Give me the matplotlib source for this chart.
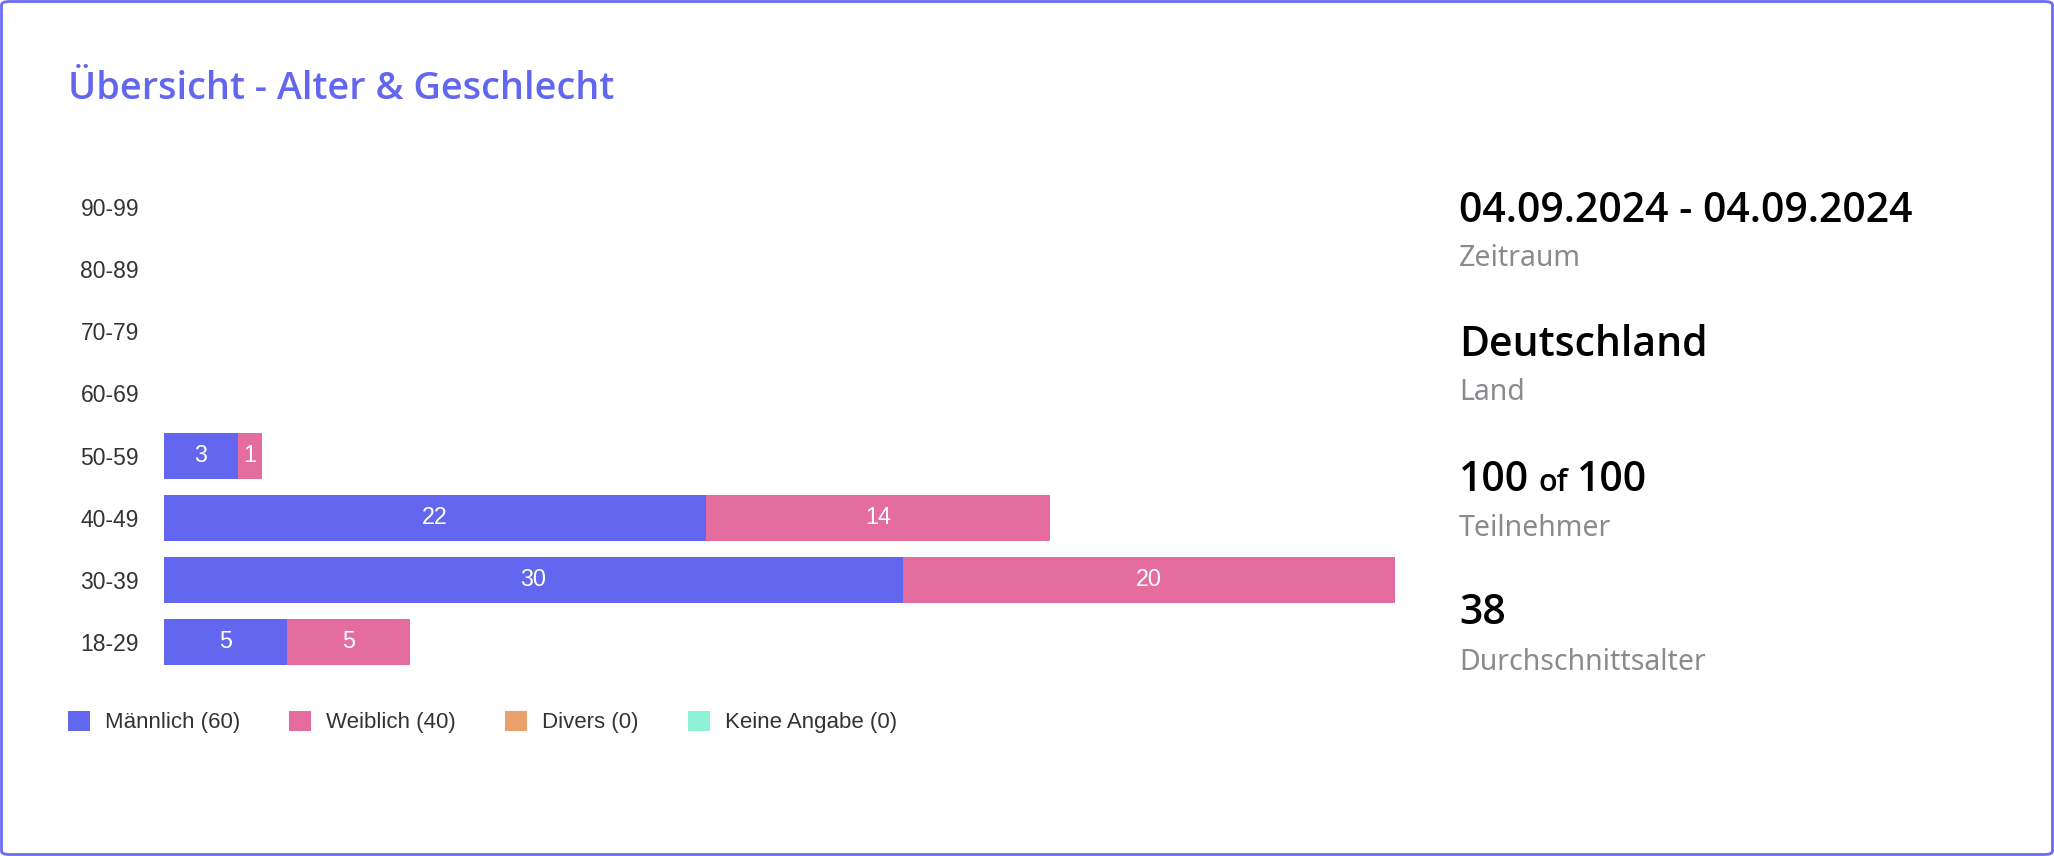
import matplotlib
matplotlib.use("Agg")
import matplotlib.pyplot as plt
from matplotlib.patches import Patch, FancyBboxPatch
from matplotlib import font_manager as fm

# ---------------- data ----------------
categories = ['18-29', '30-39', '40-49', '50-59', '60-69', '70-79', '80-89', '90-99']
maennlich = [5, 30, 22, 3, 0, 0, 0, 0]
weiblich = [5, 20, 14, 1, 0, 0, 0, 0]
divers = [0, 0, 0, 0, 0, 0, 0, 0]
keine_angabe = [0, 0, 0, 0, 0, 0, 0, 0]
series_names = ['Männlich', 'Weiblich', 'Divers', 'Keine Angabe']
series_totals = [60, 40, 0, 0]

title_text = 'Übersicht - Alter & Geschlecht'
stat_values = ['04.09.2024 - 04.09.2024', 'Deutschland', '100 of 100', '38']
stat_labels = ['Zeitraum', 'Land', 'Teilnehmer', 'Durchschnittsalter']


# ---------------- fonts ----------------
def _w(w):
    if isinstance(w, str):
        return fm.weight_dict.get(w.lower(), 400)
    return int(w)


def pick_font(prefs, target):
    for name in prefs:
        cands = [f for f in fm.fontManager.ttflist
                 if f.name == name and f.style == 'normal']
        if not cands:
            continue
        if target >= 600:
            good = [f for f in cands if _w(f.weight) >= 600]
            if not good:
                continue
            best = min(good, key=lambda f: abs(_w(f.weight) - target))
        else:
            best = min(cands, key=lambda f: abs(_w(f.weight) - target))
        return fm.FontProperties(fname=best.fname)
    return fm.FontProperties(family='DejaVu Sans',
                             weight='bold' if target >= 600 else 'normal')


prefs = ['Noto Sans', 'Open Sans', 'Inter', 'Roboto', 'Lato', 'DejaVu Sans']
fp_semibold = pick_font(prefs, 600)
fp_bold = pick_font(prefs, 600)
fp_regular = pick_font(prefs, 400)
arial = ['Liberation Sans', 'DejaVu Sans']

# ---------------- style ----------------
colors = ['#6366EE', '#E46C9E', '#E9A06C', '#8EF3D6']
title_color = '#6366EE'
W, H, DPI = 2054, 856, 100
fig = plt.figure(figsize=(W / DPI, H / DPI), dpi=DPI)
fig.patch.set_facecolor('white')

border = FancyBboxPatch((1.5 / W, 1.5 / H), 1 - 3 / W, 1 - 3 / H,
                        boxstyle='round,pad=0,rounding_size=0.004',
                        transform=fig.transFigure, fill=False,
                        edgecolor='#6B6BF5', linewidth=2.0)
fig.patches.append(border)

# title
t = fig.text(68 / W, 1 - 89 / H, title_text, color=title_color,
             fontproperties=fp_semibold, va='center', ha='left')
t.set_fontsize(27.3)

# chart axes
left, right = 164 / W, 1395 / W
top, bottom = 1 - 176 / H, 1 - 673 / H
ax = fig.add_axes([left, bottom, right - left, top - bottom])
y = list(range(len(categories)))
series = [maennlich, weiblich, divers, keine_angabe]
cum = [0] * len(categories)
bar_h = 0.74
for vals, col in zip(series, colors):
    bars = ax.barh(y, vals, left=cum, height=bar_h, color=col, linewidth=0)
    labels = [str(v) if v > 0 else '' for v in vals]
    ax.bar_label(bars, labels=labels, label_type='center', color='white',
                 fontsize=16.8, family=arial)
    cum = [c + v for c, v in zip(cum, vals)]

ax.set_xlim(0, 50)
ax.set_ylim(-0.5, len(categories) - 0.5)
ax.set_yticks(y)
ax.set_yticklabels(categories, fontsize=16.5, color='#333333', family=arial)
ax.set_xticks([])
ax.tick_params(axis='y', length=0, pad=18)
for s in ax.spines.values():
    s.set_visible(False)
ax.set_facecolor('none')

# legend
handles = [Patch(facecolor=c, edgecolor='none', label=f'{n} ({t_})')
           for c, n, t_ in zip(colors, series_names, series_totals)]
fig.legend(handles=handles, loc='center left', bbox_to_anchor=(68 / W, 1 - 722 / H),
           ncol=4, frameon=False, borderpad=0, borderaxespad=0,
           handlelength=1.0, handleheight=1.0, handletextpad=0.67,
           columnspacing=2.2,
           prop={'family': arial, 'size': 16.0},
           labelcolor='#333333')

# right stats panel
sx = 1459 / W
val_y = [207, 341, 476, 609]
lab_y = [258, 393, 528, 663]
base_off = 15
fig.canvas.draw()
renderer = fig.canvas.get_renderer()


def bold_text(x, yy, s, size):
    tt = fig.text(x, yy, s, color='black', fontproperties=fp_bold,
                  va='baseline', ha='left')
    tt.set_fontsize(size)
    return tt


for i, (v, l) in enumerate(zip(stat_values, stat_labels)):
    yv = 1 - (val_y[i] + base_off) / H
    if ' of ' in v:
        a, b = v.split(' of ')
        t1 = bold_text(sx, yv, a, 29.5)
        fig.canvas.draw()
        bb = t1.get_window_extent(renderer)
        t2 = bold_text((bb.x1 + 9) / W, yv, 'of', 22)
        fig.canvas.draw()
        bb2 = t2.get_window_extent(renderer)
        bold_text((bb2.x1 + 9) / W, yv, b, 29.5)
    else:
        bold_text(sx, yv, v, 29.5)
    tl = fig.text(sx, 1 - lab_y[i] / H, l, color='#8A8A8F',
                  fontproperties=fp_regular, va='center', ha='left')
    tl.set_fontsize(20.5)

fig.savefig('out.png', dpi=DPI, facecolor='white')
